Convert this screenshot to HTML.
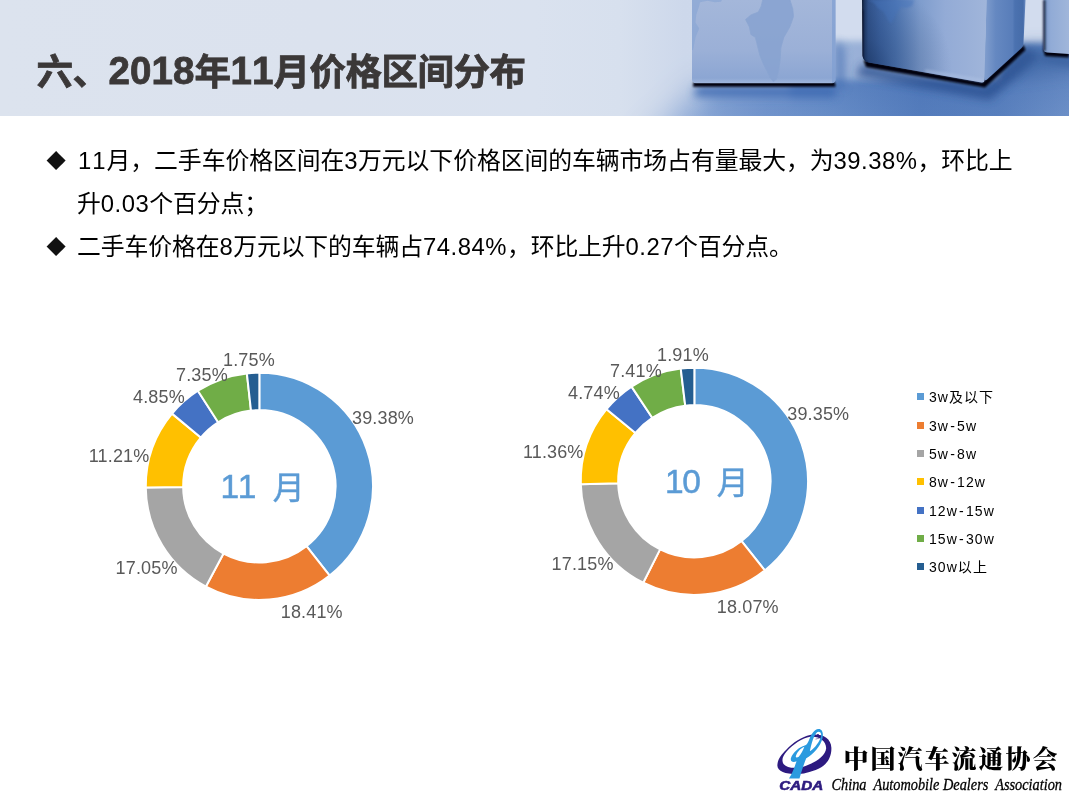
<!DOCTYPE html>
<html lang="zh-CN">
<head>
<meta charset="utf-8">
<title>六、2018年11月价格区间分布</title>
<style>
html,body{margin:0;padding:0;}
body{width:1069px;height:800px;overflow:hidden;background:#fff;position:relative;font-family:"Liberation Sans","Noto Sans CJK SC",sans-serif;}
#hdr{position:absolute;left:0;top:0;width:1069px;height:116px;overflow:hidden;background:#dce3ef;}
#hdr svg{position:absolute;left:0;top:0;}
h1{position:absolute;left:36.5px;top:45.8px;margin:0;font-size:36.5px;line-height:52px;font-weight:bold;color:#3b3838;white-space:nowrap;letter-spacing:-0.5px;-webkit-text-stroke:0.8px #3b3838;}
h1 i{font-style:normal;font-kerning:none;letter-spacing:0.1px;font-size:38.5px;position:relative;top:-0.4px;}
ul{position:absolute;left:0;top:139px;margin:0;padding:0;list-style:none;width:1069px;}
li{position:relative;padding-left:77px;font-size:23.85px;line-height:43px;color:#000;white-space:nowrap;}
li i{font-style:normal;letter-spacing:0.5px;font-kerning:none;}
li i.e{letter-spacing:1px;margin-left:1px;}
li.l3{letter-spacing:-0.11px;}
li.l1{letter-spacing:-0.07px;}
li .b{position:absolute;left:46.5px;top:-2px;font-size:25px;letter-spacing:0;color:#111;font-family:"DejaVu Sans",sans-serif;}
#chart{position:absolute;left:0;top:0;}
.dl{font-size:18px;letter-spacing:0.15px;fill:#595959;font-family:"Liberation Sans","Noto Sans CJK SC",sans-serif;}
.lg{font-size:14px;letter-spacing:1.05px;fill:#000;font-family:"Liberation Sans","Noto Sans CJK SC",sans-serif;}
.cn{font-size:33.5px;letter-spacing:-1.5px;font-kerning:none;}
.ct{font-size:32px;fill:#5B9BD5;stroke:#5B9BD5;stroke-width:0.5px;font-family:"Liberation Sans","Noto Sans CJK SC",sans-serif;}
</style>
</head>
<body>
<div id="hdr">
<svg width="1069" height="116" viewBox="0 0 1069 116">
<defs>
<linearGradient id="bg" x1="0" y1="0" x2="1069" y2="0" gradientUnits="userSpaceOnUse">
<stop offset="0" stop-color="#dce3ee"/>
<stop offset="0.3" stop-color="#dbe2ee"/>
<stop offset="0.5" stop-color="#dae2ef"/>
<stop offset="0.58" stop-color="#d7e0ee"/>
<stop offset="0.64" stop-color="#cdd8eb"/>
<stop offset="0.78" stop-color="#d2dcee"/>
<stop offset="1" stop-color="#d2dcee"/>
</linearGradient>
<linearGradient id="fl" x1="600" y1="0" x2="1069" y2="0" gradientUnits="userSpaceOnUse">
<stop offset="0" stop-color="#9fb7dd"/>
<stop offset="0.2" stop-color="#87a5d4"/>
<stop offset="0.35" stop-color="#7194cc"/>
<stop offset="0.5" stop-color="#658bc6"/>
<stop offset="0.68" stop-color="#547cbc"/>
<stop offset="0.85" stop-color="#587fbd"/>
<stop offset="1" stop-color="#6c8fc7"/>
</linearGradient>
<linearGradient id="fl2" x1="0" y1="20" x2="0" y2="116" gradientUnits="userSpaceOnUse">
<stop offset="0" stop-color="#3a62a6" stop-opacity="0.22"/>
<stop offset="0.6" stop-color="#3a62a6" stop-opacity="0.22"/>
<stop offset="1" stop-color="#3f6aae" stop-opacity="0"/>
</linearGradient>
<mask id="fm" maskUnits="userSpaceOnUse" x="0" y="0" width="1069" height="116">
<rect width="1069" height="116" fill="#000"/>
<path d="M640 150 L705 88 L840 88 L840 150Z" fill="#fff" filter="url(#b14)"/>
<path d="M716 150 L708 100 L836 94 L836 150Z" fill="#fff" filter="url(#b6)"/>
<path d="M790 150 L790 60 L1020 60 L1020 150Z" fill="#fff" filter="url(#b4)"/>
<path d="M800 41 H1020 V80 H800Z" fill="#777" filter="url(#b3)"/>
<path d="M1000 43 L1120 43 L1120 150 L1000 150Z" fill="#fff" filter="url(#b3)"/>
</mask>
<linearGradient id="c1" x1="0" y1="0" x2="0" y2="84" gradientUnits="userSpaceOnUse">
<stop offset="0" stop-color="#a4b7da"/>
<stop offset="0.6" stop-color="#9bb0d7"/>
<stop offset="0.93" stop-color="#8ca6d3"/>
<stop offset="1" stop-color="#a3b9de"/>
</linearGradient>
<linearGradient id="c2" x1="862" y1="30" x2="986" y2="30" gradientUnits="userSpaceOnUse">
<stop offset="0" stop-color="#0e1a30"/>
<stop offset="0.02" stop-color="#203862"/>
<stop offset="0.05" stop-color="#34568f"/>
<stop offset="0.145" stop-color="#4269a8"/>
<stop offset="0.27" stop-color="#547cb9"/>
<stop offset="0.47" stop-color="#7f9dcd"/>
<stop offset="0.67" stop-color="#93abd6"/>
<stop offset="1" stop-color="#a0b5da"/>
</linearGradient>
<radialGradient id="c2v" cx="862" cy="70" r="90" gradientUnits="userSpaceOnUse">
<stop offset="0" stop-color="#16305c" stop-opacity="0.65"/>
<stop offset="0.35" stop-color="#16305c" stop-opacity="0.3"/>
<stop offset="1" stop-color="#16305c" stop-opacity="0"/>
</radialGradient>
<linearGradient id="c2s" x1="986" y1="0" x2="1025" y2="0" gradientUnits="userSpaceOnUse">
<stop offset="0" stop-color="#7d9bcc"/>
<stop offset="0.25" stop-color="#6588c1"/>
<stop offset="0.68" stop-color="#587db9"/>
<stop offset="0.74" stop-color="#4b72b0"/>
<stop offset="0.95" stop-color="#466ca9"/>
<stop offset="1" stop-color="#6486be"/>
</linearGradient>
<linearGradient id="c3" x1="1043" y1="0" x2="1069" y2="0" gradientUnits="userSpaceOnUse">
<stop offset="0" stop-color="#7897c9"/>
<stop offset="0.3" stop-color="#91abd6"/>
<stop offset="1" stop-color="#a0b6da"/>
</linearGradient>
<filter id="b1" filterUnits="userSpaceOnUse" x="500" y="-60" width="700" height="260"><feGaussianBlur stdDeviation="0.8"/></filter>
<filter id="b2" filterUnits="userSpaceOnUse" x="500" y="-60" width="700" height="260"><feGaussianBlur stdDeviation="1.5"/></filter>
<filter id="b3" filterUnits="userSpaceOnUse" x="500" y="-60" width="700" height="260"><feGaussianBlur stdDeviation="3"/></filter>
<filter id="b4" filterUnits="userSpaceOnUse" x="500" y="-60" width="700" height="260"><feGaussianBlur stdDeviation="4"/></filter>
<filter id="b6" filterUnits="userSpaceOnUse" x="500" y="-60" width="700" height="260"><feGaussianBlur stdDeviation="8"/></filter>
<filter id="b14" filterUnits="userSpaceOnUse" x="500" y="-60" width="700" height="260"><feGaussianBlur stdDeviation="16"/></filter>
<clipPath id="k1"><path d="M692 0 H835.5 V79.3 q0 4 -4 4 H696 q-4 0 -4 -4Z"/></clipPath>
<clipPath id="k2"><path d="M862 0 H986.500 L984.500 80 q0 3 -3 2.500 L869 62.500 q-6 -1 -6.500 -7Z"/></clipPath>
</defs>
<rect width="1069" height="116" fill="url(#bg)"/>
<!-- floor -->
<g mask="url(#fm)">
<rect x="560" y="0" width="509" height="116" fill="url(#fl)"/>
<rect x="560" y="0" width="509" height="116" fill="url(#fl2)"/>
</g>
<path d="M862 64 L985 87 L1026 48 L1040 56 L990 100 L856 76Z" fill="#264c8c" filter="url(#b4)" opacity="0.75"/>
<path d="M836 40 L844 48 L845 88 L836 88Z" fill="#4670b2" filter="url(#b4)" opacity="0.7"/>
<path d="M696 86 H836 V97 H694Z" fill="#3a68b0" filter="url(#b4)" opacity="0.85"/>
<path d="M1042 54 L1080 60 L1080 68 L1040 60Z" fill="#2f5696" filter="url(#b4)" opacity="0.7"/>
<path d="M1018 44 L1080 44 L1080 70 L1000 80Z" fill="#335a98" filter="url(#b6)" opacity="0.45"/>
<!-- cube 1 -->
<path d="M696 81 H832 q3.500 0 3.500 5.800 H693 q0 -5.800 3 -5.800Z" fill="#02040a" filter="url(#b1)"/>
<path d="M692 0 H835.500 V79.300 q0 4 -4 4 H696 q-4 0 -4 -4Z" fill="url(#c1)"/>
<g clip-path="url(#k1)">
<path d="M762.8 -0.7 L789.8 -0.7 L792.8 9.0 L793.5 16.5 L789.8 26.9 L783.8 37.4 L780.8 47.9 L780.1 59.9 L778.6 70.4 L776.3 79.3 L773.3 81.6 L770.3 77.8 L766.6 70.4 L763.6 64.4 L759.9 55.4 L756.9 43.4 L755.4 37.4 L750.9 34.4 L749.4 26.9 L745.6 19.5 L750.9 15.0 L758.4 12.0 L761.3 6.0Z" fill="#88a3d0" opacity="0.85" stroke="#88a3d0" stroke-width="0.8" stroke-linejoin="round"/>
<path d="M691.0 -0.7 L722.4 -0.7 L720.9 1.8 L714.9 2.2 L707.5 0.7 L700.0 2.2 L699.2 6.0 L696.2 15.0 L695.5 22.5 L699.2 28.4 L695.5 37.4 L693.2 49.4 L691.0 51.6Z" fill="#8aa6d4" opacity="0.7"/>
<rect x="832" y="0" width="4" height="84" fill="#7f9ed1" opacity="0.7"/>
</g>
<!-- cube 2 -->
<path d="M863.500 60 L982 82.500 L1023.500 45 L1025.500 50 L985 87.500 L866 67Z" fill="#02040a" filter="url(#b1)"/>
<path d="M862 0 H986.500 L984.500 80 q0 3 -3 2.500 L869 62.500 q-6 -1 -6.500 -7Z" fill="url(#c2)"/>
<path d="M862 0 H986.500 L984.500 80 q0 3 -3 2.500 L869 62.500 q-6 -1 -6.500 -7Z" fill="url(#c2v)"/>
<g clip-path="url(#k2)">
<path d="M868 0 h46 l-2 6 l-6 2 l-5 -1 l-4 5 l-3 6 l-3 6 l-3 -4 l-4 -8 l-6 -4 l-4 -5z" fill="#4573bb" opacity="0.45" filter="url(#b1)"/>
<path d="M862 10 V58 q1 5 6 5" stroke="#0a1428" stroke-width="1.600" fill="none" filter="url(#b1)"/>
<path d="M925 71 L984 81" stroke="#b4c6e6" stroke-width="3" fill="none" filter="url(#b2)" opacity="0.55"/>
</g>
<path d="M986.500 0 H1025.500 L1023.500 43 q0 3 -2 5 L987 79.500 q-2.500 2 -2.500 -1Z" fill="url(#c2s)"/>
<!-- cube 3 -->
<path d="M1043.500 50 L1069 52 V57.500 L1045 56Z" fill="#02040a" filter="url(#b1)"/>
<path d="M1043.500 0 H1069 V54 L1047 52.500 q-3.500 -0.500 -3.500 -4Z" fill="url(#c3)"/>
<path d="M1044.300 0 V51" stroke="#0a1428" stroke-width="2.200" fill="none" filter="url(#b1)" opacity="0.9"/>
</svg>

</div>
<h1>六、<i>2018</i>年<i>11</i>月价格区间分布</h1>
<ul>
<li class="l1"><span class="b">◆</span><i class="e">11</i>月，二手车价格区间在<i>3</i>万元以下价格区间的车辆市场占有量最大，为<i>39.38%</i>，环比上<br>升<i>0.03</i>个百分点；</li>
<li class="l3"><span class="b">◆</span>二手车价格在<i>8</i>万元以下的车辆占<i>74.84%</i>，环比上升<i>0.27</i>个百分点。</li>
</ul>
<svg id="chart" width="1069" height="800" viewBox="0 0 1069 800">
<g>
<path d="M259.35 372.70A113.6 113.6 0 0 1 329.65 575.53L306.51 546.16A76.2 76.2 0 0 0 259.35 410.10Z" fill="#5B9BD5" stroke="#fff" stroke-width="2" stroke-linejoin="round"/>
<path d="M329.65 575.53A113.6 113.6 0 0 1 205.94 586.56L223.52 553.55A76.2 76.2 0 0 0 306.51 546.16Z" fill="#ED7D31" stroke="#fff" stroke-width="2" stroke-linejoin="round"/>
<path d="M205.94 586.56A113.6 113.6 0 0 1 145.76 487.44L183.15 487.07A76.2 76.2 0 0 0 223.52 553.55Z" fill="#A5A5A5" stroke="#fff" stroke-width="2" stroke-linejoin="round"/>
<path d="M145.76 487.44A113.6 113.6 0 0 1 172.05 413.61L200.79 437.54A76.2 76.2 0 0 0 183.15 487.07Z" fill="#FFC000" stroke="#fff" stroke-width="2" stroke-linejoin="round"/>
<path d="M172.05 413.61A113.6 113.6 0 0 1 197.88 390.77L218.12 422.22A76.2 76.2 0 0 0 200.79 437.54Z" fill="#4472C4" stroke="#fff" stroke-width="2" stroke-linejoin="round"/>
<path d="M197.88 390.77A113.6 113.6 0 0 1 246.88 373.39L250.99 410.56A76.2 76.2 0 0 0 218.12 422.22Z" fill="#70AD47" stroke="#fff" stroke-width="2" stroke-linejoin="round"/>
<path d="M246.88 373.39A113.6 113.6 0 0 1 259.35 372.70L259.35 410.10A76.2 76.2 0 0 0 250.99 410.56Z" fill="#255E91" stroke="#fff" stroke-width="2" stroke-linejoin="round"/>
</g>
<g>
<path d="M694.35 367.70A113.6 113.6 0 0 1 764.80 570.42L741.60 541.08A76.2 76.2 0 0 0 694.35 405.10Z" fill="#5B9BD5" stroke="#fff" stroke-width="2" stroke-linejoin="round"/>
<path d="M764.80 570.42A113.6 113.6 0 0 1 643.25 582.76L660.07 549.36A76.2 76.2 0 0 0 741.60 541.08Z" fill="#ED7D31" stroke="#fff" stroke-width="2" stroke-linejoin="round"/>
<path d="M643.25 582.76A113.6 113.6 0 0 1 580.79 484.32L618.18 483.32A76.2 76.2 0 0 0 660.07 549.36Z" fill="#A5A5A5" stroke="#fff" stroke-width="2" stroke-linejoin="round"/>
<path d="M580.79 484.32A113.6 113.6 0 0 1 606.54 409.23L635.45 432.96A76.2 76.2 0 0 0 618.18 483.32Z" fill="#FFC000" stroke="#fff" stroke-width="2" stroke-linejoin="round"/>
<path d="M606.54 409.23A113.6 113.6 0 0 1 631.56 386.63L652.23 417.80A76.2 76.2 0 0 0 635.45 432.96Z" fill="#4472C4" stroke="#fff" stroke-width="2" stroke-linejoin="round"/>
<path d="M631.56 386.63A113.6 113.6 0 0 1 680.75 368.52L685.23 405.65A76.2 76.2 0 0 0 652.23 417.80Z" fill="#70AD47" stroke="#fff" stroke-width="2" stroke-linejoin="round"/>
<path d="M680.75 368.52A113.6 113.6 0 0 1 694.35 367.70L694.35 405.10A76.2 76.2 0 0 0 685.23 405.65Z" fill="#255E91" stroke="#fff" stroke-width="2" stroke-linejoin="round"/>
</g>
<text class="ct"><tspan class="cn" x="220.5" y="498">11</tspan><tspan x="272.7" y="499.2">月</tspan></text>
<text class="ct"><tspan class="cn" x="665" y="493">10</tspan><tspan x="716.7" y="494.2">月</tspan></text>
<text x="352" y="423.5" class="dl">39.38%</text>
<text x="280.8" y="617.5" class="dl">18.41%</text>
<text x="115.6" y="573.5" class="dl">17.05%</text>
<text x="88.8" y="461.5" class="dl">11.21%</text>
<text x="133" y="402.5" class="dl">4.85%</text>
<text x="176" y="380.5" class="dl">7.35%</text>
<text x="223" y="365.5" class="dl">1.75%</text>
<text x="787.3" y="419.5" class="dl">39.35%</text>
<text x="716.8" y="612.5" class="dl">18.07%</text>
<text x="551.6" y="569.5" class="dl">17.15%</text>
<text x="522.9" y="457.5" class="dl">11.36%</text>
<text x="568" y="398.5" class="dl">4.74%</text>
<text x="610" y="376.5" class="dl">7.41%</text>
<text x="657" y="360.5" class="dl">1.91%</text>
<rect x="917" y="393.0" width="7" height="7" fill="#5B9BD5"/><text x="929" y="401.6" class="lg">3w及以下</text>
<rect x="917" y="422.0" width="7" height="7" fill="#ED7D31"/><text x="929" y="430.6" class="lg">3w<tspan dx="1.2">-</tspan><tspan dx="1.2">5w</tspan></text>
<rect x="917" y="450.0" width="7" height="7" fill="#A5A5A5"/><text x="929" y="458.6" class="lg">5w<tspan dx="1.2">-</tspan><tspan dx="1.2">8w</tspan></text>
<rect x="917" y="478.0" width="7" height="7" fill="#FFC000"/><text x="929" y="486.6" class="lg">8w<tspan dx="1.2">-</tspan><tspan dx="1.2">12w</tspan></text>
<rect x="917" y="507.0" width="7" height="7" fill="#4472C4"/><text x="929" y="515.6" class="lg">12w<tspan dx="1.2">-</tspan><tspan dx="1.2">15w</tspan></text>
<rect x="917" y="535.0" width="7" height="7" fill="#70AD47"/><text x="929" y="543.6" class="lg">15w<tspan dx="1.2">-</tspan><tspan dx="1.2">30w</tspan></text>
<rect x="917" y="563.0" width="7" height="7" fill="#255E91"/><text x="929" y="571.6" class="lg">30w以上</text>
</svg>
<svg id="logo" width="309" height="80" viewBox="760 720 309 80" style="position:absolute;left:760px;top:720px">
<g>
<g transform="translate(774 726) scale(0.075)">
<path fill-rule="evenodd" fill="#2d1a80" d="M160 320 C250 220 380 140 480 120 C620 95 760 150 765 290 C770 420 700 520 600 565 C480 620 380 640 300 640 C150 640 40 600 45 520 C50 440 100 380 160 320Z M168 340 C115 400 95 460 130 510 C170 560 280 570 380 545 C520 505 685 410 695 300 C700 200 600 130 480 144 C380 160 255 242 168 340Z"/>
<path fill-rule="evenodd" fill="#2a9adf" d="M200 700 L340 700 C370 600 400 500 430 430 C520 380 620 270 645 170 C665 90 640 35 590 40 C540 45 500 100 470 180 C450 230 430 260 410 260 C340 280 250 350 225 430 C215 480 260 490 300 470 C270 560 240 640 200 700Z M478 338 C495 250 520 150 562 95 C592 62 636 78 628 130 C615 205 545 292 478 338Z M290 410 C300 360 350 300 405 278 C390 320 360 380 330 410 C315 422 288 425 290 410Z"/>
<ellipse cx="586" cy="122" rx="13" ry="16" fill="#2d1a80"/>
<path d="M555 170 L600 160 L598 170 L553 180Z" fill="#2d1a80" opacity="0.7"/>
</g>
<text x="779.3" y="790.3" font-family="'Liberation Sans','DejaVu Sans',sans-serif" font-weight="bold" font-style="italic" font-size="13.500" fill="#2d1b7f" stroke="#2d1b7f" stroke-width="0.600" textLength="44" lengthAdjust="spacingAndGlyphs">CADA</text>
</g>
<text x="843.5" y="767.6" font-family="'Liberation Serif','Noto Serif CJK SC',serif" font-weight="900" font-size="25" fill="#000" textLength="214" lengthAdjust="spacing">中国汽车流通协会</text>
<text x="831.5" y="789.6" font-family="'Liberation Serif',serif" font-style="italic" font-weight="normal" font-size="17" fill="#000" stroke="#000" stroke-width="0.3" textLength="230.5" lengthAdjust="spacingAndGlyphs" xml:space="preserve">China  Automobile Dealers  Association</text>
</svg>

</body>
</html>
